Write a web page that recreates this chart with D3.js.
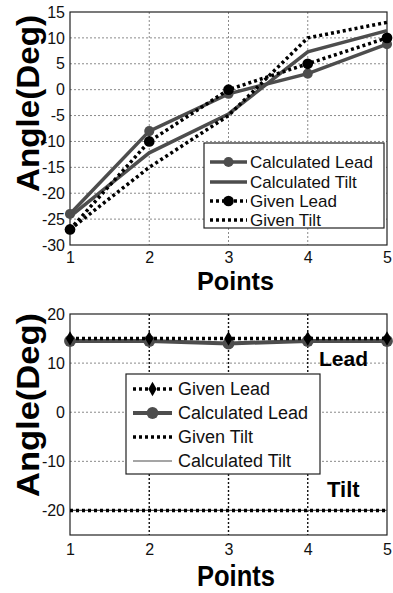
<!DOCTYPE html>
<html>
<head>
<meta charset="utf-8">
<script src="https://cdn.jsdelivr.net/npm/d3@7"></script>
<style>
  body { margin: 0; background: #fff; }
  svg { display: block; font-family: "Liberation Sans", Arial, sans-serif; }
</style>
</head>
<body>
<div id="chart"></div>
<script>
// data
const points = [1, 2, 3, 4, 5];

// top panel
const topCalcLead  = [-24, -8, -0.8, 3.1, 8.8];
const topCalcTilt  = [-24.5, -12.2, -4.7, 7.3, 11.4];
const topGivenLead = [-27, -10, 0, 5, 10];
const topGivenTilt = [-27, -15, -5, 10, 13];
const topYTicks = [15, 10, 5, 0, -5, -10, -15, -20, -25, -30];

// bottom panel
const botGivenLead = [15, 15, 15, 15, 15];
const botCalcLead  = [14.5, 14.5, 14, 14.5, 14.5];
const botGivenTilt = [-20, -20, -20, -20, -20];
const botCalcTilt  = [-20, -20, -20, -20, -20];
const botYTicks = [20, 10, 0, -10, -20];

const W = 393, H = 593;
const svg = d3.select("#chart").append("svg")
    .attr("width", W)
    .attr("height", H);

const GRAY = "#4d4d4d";

function panel(opt) {
  const g = svg.append("g");
  const x = d3.scaleLinear().domain([1, 5]).range([opt.left, opt.right]);
  const y = d3.scaleLinear().domain(opt.ydomain).range([opt.bottom, opt.top]);

  // grid
  g.append("g").selectAll("line")
    .data(opt.yticks.filter(d => d !== opt.ydomain[0] && d !== opt.ydomain[1]))
    .join("line")
      .attr("x1", opt.left).attr("x2", opt.right)
      .attr("y1", d => y(d)).attr("y2", d => y(d))
      .attr("stroke", "#8a8a8a").attr("stroke-width", 1)
      .attr("stroke-dasharray", "2,2");
  g.append("g").selectAll("line")
    .data([2, 3, 4])
    .join("line")
      .attr("x1", d => x(d)).attr("x2", d => x(d))
      .attr("y1", opt.top).attr("y2", opt.bottom)
      .attr("stroke", opt.vgrid).attr("stroke-width", opt.vgridW)
      .attr("stroke-dasharray", "2,2");

  // axes (plain hyphen for negatives, like the original)
  const ya = g.append("g")
      .attr("transform", `translate(${opt.left},0)`)
      .call(d3.axisLeft(y).tickValues(opt.yticks).tickFormat(d => String(d)).tickSize(0).tickPadding(5));
  ya.select(".domain").remove();
  ya.selectAll("text").attr("font-size", 16).attr("font-family", null).attr("fill", "#111");

  const xa = g.append("g")
      .attr("transform", `translate(0,${opt.bottom})`)
      .call(d3.axisBottom(x).tickValues(points).tickFormat(d => String(d)).tickSize(0).tickPadding(opt.xpad));
  xa.select(".domain").remove();
  xa.selectAll("text").attr("font-size", 16).attr("font-family", null).attr("fill", "#111");

  // frame
  g.append("rect")
    .attr("x", opt.left).attr("y", opt.top)
    .attr("width", opt.right - opt.left).attr("height", opt.bottom - opt.top)
    .attr("fill", "none").attr("stroke", "#222").attr("stroke-width", 1.2);

  // series
  const line = d3.line().x((d, i) => x(points[i])).y(d => y(d));
  opt.series.forEach(s => {
    g.append("path")
      .attr("d", line(s.values))
      .attr("fill", "none")
      .attr("stroke", s.color)
      .attr("stroke-width", s.width)
      .attr("stroke-dasharray", s.dash || null);
    if (s.marker) {
      g.append("g").selectAll("path")
        .data(s.values)
        .join("path")
          .attr("transform", (d, i) => `translate(${x(points[i])},${y(d)})`)
          .attr("d", d3.symbol().type(s.marker).size(s.msize))
          .attr("fill", s.color);
    }
  });

  // legend
  const L = opt.legend;
  const lg = g.append("g");
  lg.append("rect")
    .attr("x", L.x).attr("y", L.y).attr("width", L.w).attr("height", L.h)
    .attr("fill", "#fff").attr("stroke", "#222").attr("stroke-width", 1.2);
  L.order.forEach((s, i) => {
    const yy = L.rows[i];
    lg.append("line")
      .attr("x1", L.lx1).attr("x2", L.lx2).attr("y1", yy).attr("y2", yy)
      .attr("stroke", s.color).attr("stroke-width", s.width)
      .attr("stroke-dasharray", s.dash || null);
    if (s.marker) {
      lg.append("path")
        .attr("transform", `translate(${(L.lx1 + L.lx2) / 2},${yy})`)
        .attr("d", d3.symbol().type(s.marker).size(s.msize))
        .attr("fill", s.color);
    }
    lg.append("text")
      .attr("x", L.tx).attr("y", yy)
      .attr("dy", "0.36em")
      .attr("font-size", L.fs)
      .attr("fill", "#111")
      .text(s.name);
  });

  // axis titles
  g.append("text")
    .attr("transform", `translate(${opt.ylab.x},${opt.ylab.y}) rotate(-90)`)
    .attr("font-size", opt.ylab.fs).attr("font-weight", "bold")
    .attr("textLength", opt.ylab.len).attr("lengthAdjust", "spacingAndGlyphs")
    .text("Angle(Deg)");
  g.append("text")
    .attr("x", opt.xlab.x).attr("y", opt.xlab.y)
    .attr("font-size", opt.xlab.fs).attr("font-weight", "bold")
    .attr("textLength", opt.xlab.len).attr("lengthAdjust", "spacingAndGlyphs")
    .text("Points");

  return {g, x, y};
}

// ---- top panel
const tCL = {name: "Calculated Lead", values: topCalcLead, color: GRAY, width: 3.5, marker: d3.symbolCircle, msize: 80};
const tCT = {name: "Calculated Tilt", values: topCalcTilt, color: GRAY, width: 3.5};
const tGL = {name: "Given Lead", values: topGivenLead, color: "#000", width: 3.5, dash: "3,3", marker: d3.symbolCircle, msize: 90};
const tGT = {name: "Given Tilt", values: topGivenTilt, color: "#000", width: 3.5, dash: "3,3"};

panel({
  left: 70, right: 387, top: 12, bottom: 245,
  ydomain: [-30, 15], yticks: topYTicks,
  vgrid: "#8a8a8a", vgridW: 1, xpad: 6.5,
  series: [tCL, tCT, tGL, tGT],
  legend: {x: 204, y: 143, w: 180, h: 85, rows: [162, 182, 201, 220],
           lx1: 210, lx2: 247, tx: 250, fs: 17, order: [tCL, tCT, tGL, tGT]},
  ylab: {x: 39, y: 192, fs: 31, len: 177},
  xlab: {x: 197, y: 290, fs: 25, len: 77}
});

// ---- bottom panel
const bGL = {name: "Given Lead", values: botGivenLead, color: "#000", width: 3.5, dash: "3,3", marker: d3.symbolDiamond, msize: 60};
const bCL = {name: "Calculated Lead", values: botCalcLead, color: GRAY, width: 4, marker: d3.symbolCircle, msize: 110};
const bGT = {name: "Given Tilt", values: botGivenTilt, color: "#000", width: 3.5, dash: "3,3"};
const bCT = {name: "Calculated Tilt", values: botCalcTilt, color: GRAY, width: 1.2};

const bot = panel({
  left: 70, right: 387, top: 314, bottom: 535,
  ydomain: [-25, 20], yticks: botYTicks,
  vgrid: "#111", vgridW: 1.4, xpad: 8.5,
  series: [bCT, bGT, bCL, bGL],
  legend: {x: 126, y: 374, w: 194, h: 100, rows: [389, 413, 437, 461],
           lx1: 133, lx2: 172, tx: 178, fs: 18, order: [bGL, bCL, bGT, bCT]},
  ylab: {x: 39, y: 497, fs: 32, len: 184},
  xlab: {x: 197, y: 586, fs: 30, len: 78}
});

bot.g.append("text")
  .attr("x", 319).attr("y", 366)
  .attr("font-size", 21).attr("font-weight", "bold")
  .text("Lead");
bot.g.append("text")
  .attr("x", 327).attr("y", 497)
  .attr("font-size", 22).attr("font-weight", "bold")
  .text("Tilt");
</script>
</body>
</html>
